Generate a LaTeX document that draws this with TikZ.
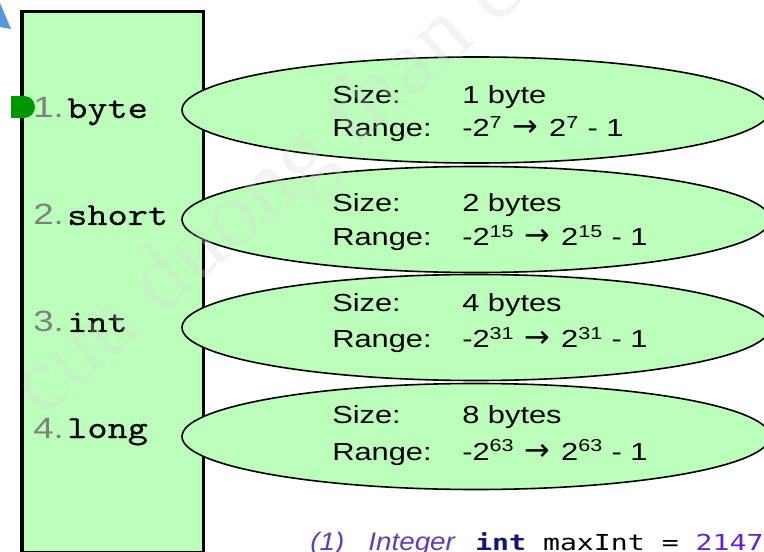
\documentclass[tikz,border=0pt]{standalone}
\usepackage{fontspec}
\usetikzlibrary{positioning}

\newfontfamily\infofont{Liberation Sans}[FakeStretch=1.25]
\newfontfamily\arrowfont{DejaVu Sans}
\newfontfamily\typefont{lmmono10-regular.otf}[FakeStretch=1.2, FakeBold=0.5]
\newfontfamily\codefont{DejaVu Sans Mono}[FakeStretch=1.28]
\newfontfamily\notefont{Liberation Sans}[FakeStretch=1.1]
\newfontfamily\markfont{Liberation Serif}
\newcommand{\toarrow}{\hspace{1.5pt}{\arrowfont\fontsize{23}{23}\selectfont →}\hspace{1.5pt}}

\definecolor{boxgreen}{RGB}{187,255,187}
\definecolor{labelgray}{RGB}{128,128,128}
\definecolor{markgreen}{RGB}{0,150,0}
\definecolor{cornerblue}{RGB}{90,150,220}
\definecolor{notepurple}{RGB}{100,60,180}
\definecolor{keynavy}{RGB}{20,20,120}
\definecolor{numpurple}{RGB}{100,30,220}
\definecolor{markgray}{RGB}{215,215,215}

\begin{document}
\begin{tikzpicture}[x=0.75pt, y=-0.75pt,
    typebox/.style={draw=black, line width=2.3pt, fill=boxgreen},
    infoshape/.style={draw=black, line width=1.2pt, fill=boxgreen},
    txt/.style={anchor=base west, inner sep=0pt},
    infotext/.style={txt, font=\infofont\fontsize{18.5}{22}\selectfont}]
    \useasboundingbox (0,0) rectangle (764,552);
    \clip (0,0) rectangle (764,552);

    % Define coordinates for the type box
    \coordinate (BoxTopLeft) at (22, 11.5);
    \coordinate (BoxBotRight) at (203.5, 553);

    % Corner marks
    \fill[cornerblue] (0,3) -- (11,29) -- (0,27) -- cycle;

    % Type box
    \draw[typebox] (BoxTopLeft) rectangle (BoxBotRight);
    \fill[markgreen] (11,96) -- (24,96) arc[start angle=-90, end angle=90, radius=11] -- (11,118) -- cycle;

    % One row per integer type: name, ellipse, size and range
    \foreach \i/\cy/\lab/\sz/\rg/\type/\bytes/\ex in {
        1/110/118/104/137/byte/1 byte/7,
        2/219.5/225/211.5/246/short/2 bytes/15,
        3/327.5/332/312/348/int/4 bytes/31,
        4/436.5/438/423/460/long/8 bytes/63} {
        \node[txt, labelgray, font=\infofont\fontsize{22}{26}\selectfont] (num\i) at (33,\lab) {\i.};
        \node[txt, font=\typefont\fontsize{24}{28}\selectfont] (type\i) at (67,\lab) {\type};
        \draw[infoshape] (476,\cy) ellipse [x radius=294, y radius=53];
        \node[infotext] (size\i) at (332,\sz) {Size:};
        \node[infotext] (bytes\i) at (462,\sz) {\bytes};
        \node[infotext] (range\i) at (332,\rg) {Range:};
        \node[infotext] (limits\i) at (462,\rg) {-2\textsuperscript{\ex} \toarrow{} 2\textsuperscript{\ex} - 1};
    }

    % Code line at the bottom
    \node[txt, notepurple, font=\notefont\itshape\fontsize{19}{22}\selectfont] (note) at (310,550) {(1)};
    \node[txt, notepurple, font=\notefont\itshape\fontsize{19}{22}\selectfont] (notetype) at (368,550) {Integer};
    \node[txt, font=\codefont\fontsize{16.5}{20}\selectfont] (code) at (475,550)
        {\textcolor{keynavy}{\textbf{int}} maxInt = \textcolor{numpurple}{2147}};

    % Watermark
    \node[txt, markgray, opacity=0.3, rotate=41, font=\markfont\fontsize{70}{80}\selectfont] (watermark) at (42,420) {cuu duong than cong . com};
\end{tikzpicture}
\end{document}
